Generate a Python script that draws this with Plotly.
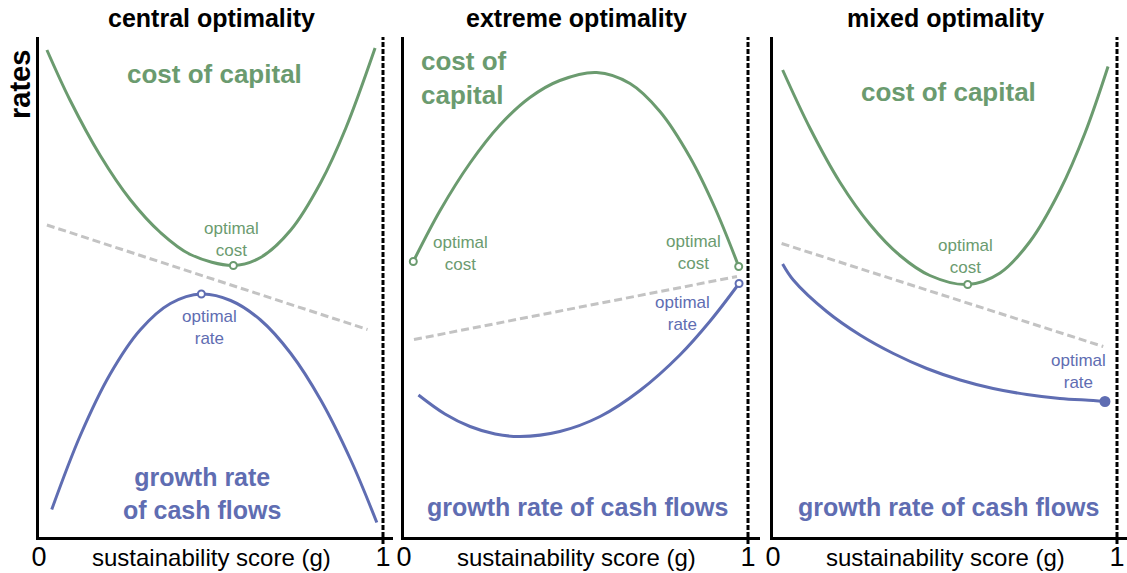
"""Three-panel sketch: cost of capital vs growth rate over sustainability score."""

import plotly.graph_objects as go

W, H = 1127, 573
GREEN = "#6b9b6f"
BLUE = "#5f6db2"
GRAY = "#c3c3c3"
FONT = "Liberation Sans, Arial, sans-serif"

titles = ["central optimality", "extreme optimality", "mixed optimality"]

# panel 1 - central optimality
p1_cost_x = [0.023, 0.090, 0.178, 0.265, 0.353, 0.440, 0.565, 0.644, 0.732, 0.819, 0.892, 0.977]
p1_cost_y = [97.4, 87.4, 76.3, 67.5, 60.9, 56.5, 54.3, 55.9, 61.4, 70.9, 81.8, 97.8]
p1_rate_x = [0.037, 0.120, 0.207, 0.294, 0.382, 0.472, 0.557, 0.644, 0.732, 0.819, 0.907, 0.982]
p1_rate_y = [5.5, 20.3, 32.6, 41.4, 46.7, 48.6, 47.3, 43.4, 36.7, 27.4, 15.3, 2.9]
p1_ref_x = [0.023, 0.955]
p1_ref_y = [62.4, 41.5]
p1_opt_cost = (0.565, 54.3)
p1_opt_rate = (0.472, 48.6)

# panel 2 - extreme optimality
p2_cost_x = [0.027, 0.105, 0.192, 0.279, 0.366, 0.453, 0.560, 0.657, 0.744, 0.831, 0.904, 0.973]
p2_cost_y = [55.1, 65.3, 74.8, 82.4, 87.9, 91.3, 92.9, 90.7, 85.1, 76.0, 65.8, 54.1]
p2_rate_x = [0.042, 0.119, 0.192, 0.265, 0.337, 0.453, 0.570, 0.686, 0.802, 0.890, 0.974]
p2_rate_y = [28.4, 24.6, 22.1, 20.6, 20.1, 21.1, 24.1, 29.3, 36.4, 43.2, 50.7]
p2_ref_x = [0.029, 0.968]
p2_ref_y = [39.5, 52.1]

# panel 3 - mixed optimality
p3_cost_x = [0.028, 0.108, 0.195, 0.282, 0.369, 0.456, 0.566, 0.660, 0.747, 0.834, 0.907, 0.974]
p3_cost_y = [93.4, 81.7, 70.9, 62.5, 56.3, 52.3, 50.5, 52.8, 59.1, 69.3, 80.8, 94.1]
p3_rate_x = [0.028, 0.059, 0.156, 0.253, 0.350, 0.447, 0.544, 0.640, 0.738, 0.834, 0.931, 0.965]
p3_rate_y = [54.6, 51.4, 45.1, 40.4, 36.7, 33.7, 31.4, 29.7, 28.5, 27.7, 27.3, 27.1]
p3_ref_x = [0.025, 0.960]
p3_ref_y = [58.7, 38.1]
p3_opt_cost = (0.566, 50.5)

# pixel layout of each panel: left axis, right end of x axis
panel_px = [(39, 393), (404, 760), (773, 1127)]
UNIT = 344  # pixels per unit of g
Y_BOT, Y_TOP = 537, 37


def px(x):
    return x / W


def py(y):
    return 1 - y / H


fig = go.Figure()


def curve(i, x, y, color, dash=None):
    ax = "" if i == 0 else str(i + 1)
    fig.add_trace(go.Scatter(
        x=x, y=y, mode="lines", xaxis="x" + ax, yaxis="y" + ax,
        line=dict(color=color, width=3, shape="spline", smoothing=1.0, dash=dash),
        hoverinfo="skip", showlegend=False,
    ))


def marker(i, pts, color, filled=False):
    ax = "" if i == 0 else str(i + 1)
    fig.add_trace(go.Scatter(
        x=[p[0] for p in pts], y=[p[1] for p in pts], mode="markers",
        xaxis="x" + ax, yaxis="y" + ax, cliponaxis=False,
        marker=dict(size=9 if filled else 7, color=color if filled else "white",
                    line=dict(color=color, width=2)),
        hoverinfo="skip", showlegend=False,
    ))


# gray reference lines first so the curves sit on top
curve(0, p1_ref_x, p1_ref_y, GRAY, "8px,4px")
curve(1, p2_ref_x, p2_ref_y, GRAY, "8px,4px")
curve(2, p3_ref_x, p3_ref_y, GRAY, "8px,4px")

curve(0, p1_cost_x, p1_cost_y, GREEN)
curve(0, p1_rate_x, p1_rate_y, BLUE)
curve(1, p2_cost_x, p2_cost_y, GREEN)
curve(1, p2_rate_x, p2_rate_y, BLUE)
curve(2, p3_cost_x, p3_cost_y, GREEN)
curve(2, p3_rate_x, p3_rate_y, BLUE)

marker(0, [p1_opt_cost], GREEN)
marker(0, [p1_opt_rate], BLUE)
marker(1, [(p2_cost_x[0], p2_cost_y[0]), (p2_cost_x[-1], p2_cost_y[-1])], GREEN)
marker(1, [(p2_rate_x[-1], p2_rate_y[-1])], BLUE)
marker(2, [p3_opt_cost], GREEN)
marker(2, [(p3_rate_x[-1], p3_rate_y[-1])], BLUE, filled=True)

layout = dict(
    width=W, height=H, plot_bgcolor="white", paper_bgcolor="white",
    margin=dict(l=0, r=0, t=0, b=0, autoexpand=False), showlegend=False,
    font=dict(family=FONT, color="black"),
)
for i, (left, right) in enumerate(panel_px):
    ax = "" if i == 0 else str(i + 1)
    layout["xaxis" + ax] = dict(
        domain=[px(left), px(right)], range=[0, (right - left) / UNIT],
        showline=True, linecolor="black", linewidth=3, showgrid=False, zeroline=False,
        tickvals=[0, 1], ticktext=["0", "1"], ticks="", tickfont=dict(size=27, family=FONT),
        ticklabelstandoff=-6,
        anchor="y" + ax, fixedrange=True, automargin=False,
    )
    layout["yaxis" + ax] = dict(
        domain=[py(Y_BOT), py(Y_TOP)], range=[0, 100],
        showline=True, linecolor="black", linewidth=3, showgrid=False, zeroline=False,
        showticklabels=False, ticks="", anchor="x" + ax, fixedrange=True, automargin=False,
    )
fig.update_layout(**layout)

# dashed line at g = 1
for i in range(3):
    ax = "" if i == 0 else str(i + 1)
    fig.add_shape(type="line", xref="x" + ax, yref="paper", x0=1, x1=1,
                  y0=py(544), y1=py(Y_TOP),
                  line=dict(color="black", width=3, dash="5px,2px"))


def note(x, y, text, color, size, bold=False, xanchor="center", **kw):
    if bold:
        text = "<b>" + text + "</b>"
    fig.add_annotation(x=x, y=y, xref="paper", yref="paper", text=text, showarrow=False,
                       xanchor=xanchor, yanchor="middle",
                       font=dict(family=FONT, size=size, color=color), **kw)


for (left, right), title in zip(panel_px, titles):
    note(px(left + 0.5 * UNIT), py(18), title, "black", 25, bold=True)
    note(px(left + 0.5 * UNIT), py(557), "sustainability score (g)", "black", 24)

note(px(20), py(85), "rates", "black", 29, bold=True, textangle=-90)

# panel 1 labels
note(px(215), py(74), "cost of capital", GREEN, 26, bold=True)
note(px(202), py(493), "growth rate<br>of cash flows", BLUE, 25, bold=True)
note(px(231), py(239), "optimal<br>cost", GREEN, 17)
note(px(209), py(327), "optimal<br>rate", BLUE, 17)

# panel 2 labels
note(px(419), py(78), "cost of<br>capital", GREEN, 26, bold=True, xanchor="left", align="left")
note(px(577), py(507), "growth rate of cash flows", BLUE, 25, bold=True)
note(px(460), py(253), "optimal<br>cost", GREEN, 17)
note(px(693), py(252), "optimal<br>cost", GREEN, 17)
note(px(682), py(313), "optimal<br>rate", BLUE, 17)

# panel 3 labels
note(px(948), py(92), "cost of capital", GREEN, 26, bold=True)
note(px(948), py(507), "growth rate of cash flows", BLUE, 25, bold=True)
note(px(965), py(257), "optimal<br>cost", GREEN, 17)
note(px(1078), py(371), "optimal<br>rate", BLUE, 17)

fig.write_html("out.html", config={"displayModeBar": False},
               post_script="document.body.style.margin='0';document.body.style.overflow='hidden';")
